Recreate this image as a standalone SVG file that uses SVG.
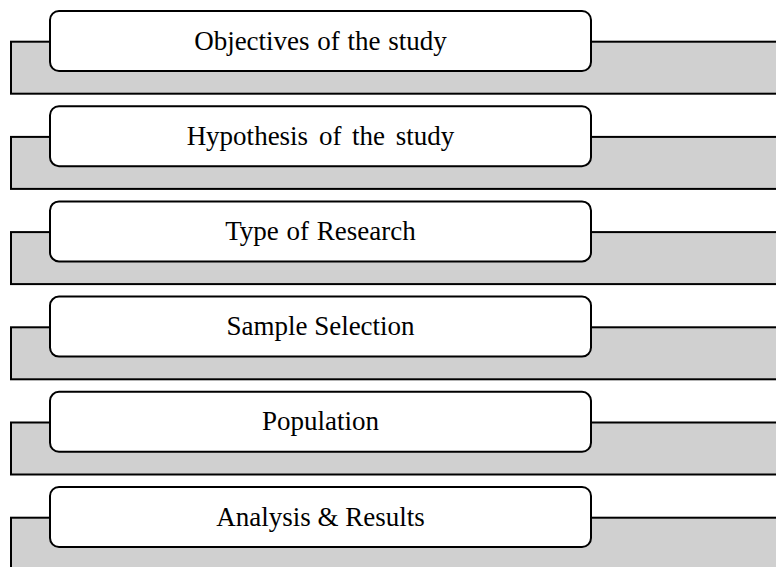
<svg xmlns="http://www.w3.org/2000/svg" width="776" height="567" viewBox="0 0 776 567">
<style>
.band{fill:#D0D0D0;stroke:#000;stroke-width:2}
.box{fill:#fff;stroke:#000;stroke-width:2}
.lbl{font-family:"Liberation Serif","Times New Roman",serif;font-size:27px;fill:#000;text-anchor:middle}
</style>
<rect width="776" height="567" fill="#fff"/>
<g id="connectors"/>
<g id="node1" transform="translate(0,0)">
<rect class="band" x="11" y="41.7" width="775" height="52"/>
<rect class="box" x="50" y="11" width="541" height="60" rx="9"/>
<text class="lbl" x="320.5" y="49.5" style="word-spacing:1px">Objectives of the study</text>
</g>
<g id="node2" transform="translate(0,95.2)">
<rect class="band" x="11" y="41.7" width="775" height="52"/>
<rect class="box" x="50" y="11" width="541" height="60" rx="9"/>
<text class="lbl" x="320.5" y="49.5" style="word-spacing:4px">Hypothesis of the study</text>
</g>
<g id="node3" transform="translate(0,190.4)">
<rect class="band" x="11" y="41.7" width="775" height="52"/>
<rect class="box" x="50" y="11" width="541" height="60" rx="9"/>
<text class="lbl" x="320.5" y="49.5" style="word-spacing:1px">Type of Research</text>
</g>
<g id="node4" transform="translate(0,285.6)">
<rect class="band" x="11" y="41.7" width="775" height="52"/>
<rect class="box" x="50" y="11" width="541" height="60" rx="9"/>
<text class="lbl" x="320.5" y="49.5">Sample Selection</text>
</g>
<g id="node5" transform="translate(0,380.8)">
<rect class="band" x="11" y="41.7" width="775" height="52"/>
<rect class="box" x="50" y="11" width="541" height="60" rx="9"/>
<text class="lbl" x="320.5" y="49.5">Population</text>
</g>
<g id="node6" transform="translate(0,476)">
<rect class="band" x="11" y="41.7" width="775" height="52"/>
<rect class="box" x="50" y="11" width="541" height="60" rx="9"/>
<text class="lbl" x="320.5" y="49.5">Analysis &amp; Results</text>
</g>
</svg>
